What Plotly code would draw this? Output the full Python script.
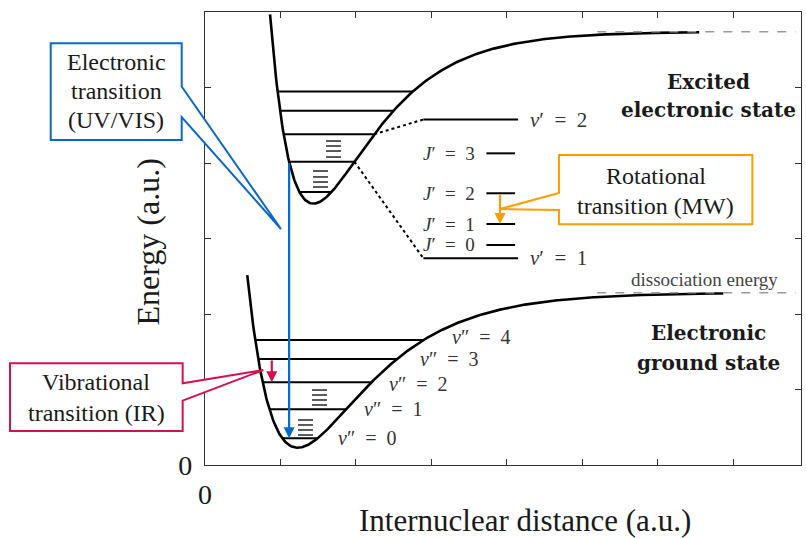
import numpy as np
import plotly.graph_objects as go

# ---- axis extents (arbitrary units) ----
x_max = 7.9
y_max = 6.0

# ---- Morse potential parameters of the two electronic states ----
ground_pot = dict(re=1.23, vmin=0.229, de=2.053, a=1.075, r0=0.56, r1=6.87)
excited_pot = dict(re=1.436, vmin=3.462, de=2.277, a=1.25, r0=0.862, r1=6.55)

# ---- vibrational levels ----
ground_levels = [0.354, 0.738, 1.095, 1.404, 1.656]
ground_labels = ["v\u2033 = 0", "v\u2033 = 1", "v\u2033 = 2", "v\u2033 = 3", "v\u2033 = 4"]
excited_levels = [3.617, 4.017, 4.381, 4.691, 4.947]

# magnified excited levels v'=1, v'=2 (energy on the zoomed scale)
zoom_levels = [2.738, 4.576]
zoom_labels = ["v\u2032 = 1", "v\u2032 = 2"]
zoom_source = [1, 2]          # which excited level each one magnifies

# ---- rotational levels of v'=1 (zoomed scale) ----
rot_levels = [2.914, 3.192, 3.599, 4.128]
rot_labels = ["J\u2032 = 0", "J\u2032 = 1", "J\u2032 = 2", "J\u2032 = 3"]

# ---- small rotational ladders drawn inside the wells ----
ladders = [
    (1.233, 1.432, [0.397, 0.464, 0.530, 0.596]),
    (1.418, 1.617, [0.795, 0.861, 0.927, 0.993]),
    (1.432, 1.630, [3.682, 3.748, 3.815, 3.894]),
    (1.604, 1.803, [4.079, 4.159, 4.225, 4.291]),
]

FONT = "Liberation Serif"
BOLD_FONT = "DejaVu Serif"
BLUE = "#0a68c8"
RED = "#d4104f"
ORANGE = "#ff9c00"
GREY = "#999999"
INK = "#1a1a1a"
EQ = "\u2002=\u2002"


def morse(p, r):
    return p["vmin"] + p["de"] * (1 - np.exp(-p["a"] * (r - p["re"]))) ** 2


def turning_points(p, e):
    s = np.sqrt((e - p["vmin"]) / p["de"])
    return p["re"] - np.log(1 + s) / p["a"], p["re"] - np.log(1 - s) / p["a"]


def px(x):
    return x / x_max


def py(y):
    return y / y_max


fig = go.Figure()

# potential energy curves
for pot in (ground_pot, excited_pot):
    r = np.linspace(pot["r0"], pot["r1"], 500)
    fig.add_trace(go.Scatter(x=r, y=morse(pot, r), mode="lines",
                             line=dict(color="black", width=2.6),
                             hoverinfo="skip"))

# dissociation limits
for pot in (ground_pot, excited_pot):
    lim = pot["vmin"] + pot["de"]
    fig.add_trace(go.Scatter(x=[5.2, 7.83], y=[lim, lim], mode="lines",
                             line=dict(color=GREY, width=1.5, dash="dash"),
                             hoverinfo="skip"))

# vibrational level lines between the classical turning points
xs, ys = [], []
for pot, levels in ((ground_pot, ground_levels), (excited_pot, excited_levels)):
    for e in levels:
        r_l, r_r = turning_points(pot, e)
        xs += [r_l, r_r, None]
        ys += [e, e, None]
fig.add_trace(go.Scatter(x=xs, y=ys, mode="lines",
                         line=dict(color="black", width=2), hoverinfo="skip"))

# ladders of rotational sub-levels
xs, ys = [], []
for x0, x1, yl in ladders:
    for y in yl:
        xs += [x0, x1, None]
        ys += [y, y, None]
fig.add_trace(go.Scatter(x=xs, y=ys, mode="lines",
                         line=dict(color="#333333", width=1.6), hoverinfo="skip"))

# magnified v' levels and dotted connectors
zoom_x0, zoom_x1 = 2.894, 4.15
xs, ys, dx, dy = [], [], [], []
for e, src in zip(zoom_levels, zoom_source):
    xs += [zoom_x0, zoom_x1, None]
    ys += [e, e, None]
    r_r = turning_points(excited_pot, excited_levels[src])[1]
    dx += [r_r, zoom_x0, None]
    dy += [excited_levels[src], e, None]
fig.add_trace(go.Scatter(x=xs, y=ys, mode="lines",
                         line=dict(color="black", width=2), hoverinfo="skip"))
fig.add_trace(go.Scatter(x=dx, y=dy, mode="lines",
                         line=dict(color="black", width=2, dash="dot"),
                         hoverinfo="skip"))

# rotational levels J'
rot_x0, rot_x1 = 3.73, 4.11
xs, ys = [], []
for e in rot_levels:
    xs += [rot_x0, rot_x1, None]
    ys += [e, e, None]
fig.add_trace(go.Scatter(x=xs, y=ys, mode="lines",
                         line=dict(color="black", width=2), hoverinfo="skip"))

annotations = []


def label(x, y, lines, size, anchor="left", color=INK, family=FONT,
          spacing=None, bold=False):
    """Place text (one annotation per line) at data position (x, y)."""
    if isinstance(lines, str):
        lines = [lines]
    spacing = spacing or 1.25 * size
    n = len(lines)
    for i, t in enumerate(lines):
        if bold:
            t = "<b>" + t + "</b>"
        annotations.append(dict(
            x=px(x), y=py(y), xref="paper", yref="paper", text=t,
            showarrow=False, xanchor=anchor, yanchor="middle",
            yshift=((n - 1) / 2 - i) * spacing,
            font=dict(family=family, size=size, color=color)))


def math_label(s):
    name, val = s.split(" = ")
    return "<i>" + name[0] + "</i>" + name[1:] + EQ + val


# level labels
ground_label_x = [1.736, 2.081, 2.413, 2.824, 3.248]
ground_label_dy = [0.0, 0.0, -0.02, 0.0, 0.04]
for x, e, dy_, t in zip(ground_label_x, ground_levels, ground_label_dy, ground_labels):
    label(x, e + dy_, math_label(t), 20, color="#333333")
for e, t in zip(zoom_levels, zoom_labels):
    label(4.28, e, math_label(t), 21, color="#333333")
for e, t in zip(rot_levels, rot_labels):
    label(3.607, e, math_label(t), 19, anchor="right", color="#333333")

# state names
label(6.68, 4.887, ["Excited", "electronic state"], 20, anchor="center",
      family=BOLD_FONT, bold=True, spacing=28)
label(6.68, 1.55, ["Electronic", "ground state"], 20, anchor="center",
      family=BOLD_FONT, bold=True, spacing=30)
label(6.615, 2.46, "dissociation energy", 19, anchor="center", color="#444444")

# transition arrows (tail at upper level, head at lower level)
arrows = [
    (turning_points(excited_pot, excited_levels[1])[0], excited_levels[1],
     ground_levels[0], BLUE),
    (0.885, ground_levels[3], ground_levels[2], RED),
    (3.91, rot_levels[2], rot_levels[1], ORANGE),
]
for x, y0, y1, col in arrows:
    annotations.append(dict(x=x, y=y1, ax=x, ay=y0, xref="x", yref="y",
                            axref="x", ayref="y", text="", showarrow=True,
                            arrowhead=2, arrowsize=1, arrowwidth=2.2,
                            arrowcolor=col, standoff=0))

# callout boxes: (left, right, bottom, top, wedge_low, wedge_high, tip_x, tip_y)
callouts = [
    ((-2.045, -0.309, 4.305, 5.585, 4.609, 5.013, 1.007, 3.126), BLUE, "right",
     ["Electronic", "transition", "(UV/VIS)"], (-1.177, 4.954), 29),
    ((-2.585, -0.296, 0.450, 1.347, 0.852, 1.082, 0.773, 1.258), RED, "right",
     ["Vibrational", "transition (IR)"], (-1.441, 0.894), 31),
    ((4.692, 7.255, 3.188, 4.106, 3.377, 3.603, 3.91, 3.39), ORANGE, "left",
     ["Rotational", "transition (MW)"], (5.973, 3.629), 30),
]
shapes = []
for (l, r, b, t, wl, wh, tx, ty), col, side, text, (cx, cy), sp in callouts:
    if side == "right":
        pts = [(l, t), (r, t), (r, wh), (tx, ty), (r, wl), (r, b), (l, b)]
    else:
        pts = [(l, t), (r, t), (r, b), (l, b), (l, wl), (tx, ty), (l, wh)]
    path = "M " + " L ".join(f"{px(x):.5f},{py(y):.5f}" for x, y in pts) + " Z"
    shapes.append(dict(type="path", path=path, xref="paper", yref="paper",
                       line=dict(color=col, width=2), fillcolor="white",
                       layer="above"))
    label(cx, cy, text, 24, anchor="center", spacing=sp)

# axis titles
annotations.append(dict(x=0.537, y=-0.122, xref="paper", yref="paper",
                        text="Internuclear distance (a.u.)", showarrow=False,
                        xanchor="center", yanchor="middle",
                        font=dict(family=FONT, size=31, color=INK)))
annotations.append(dict(x=-0.095, y=0.492, xref="paper", yref="paper",
                        text="Energy (a.u.)", showarrow=False, textangle=-90,
                        xanchor="center", yanchor="middle",
                        font=dict(family=FONT, size=32, color=INK)))

axis_style = dict(showline=True, linecolor="#333333", linewidth=1.2,
                  mirror="ticks", ticks="inside", ticklen=6,
                  tickcolor="#333333", tickwidth=1.2, showgrid=False,
                  zeroline=False,
                  tickfont=dict(family=FONT, size=28, color=INK))

fig.update_layout(
    width=806, height=538, autosize=False,
    margin=dict(l=205, r=5, t=12, b=73),
    paper_bgcolor="white", plot_bgcolor="white",
    showlegend=False,
    xaxis=dict(range=[0, x_max], tickvals=list(range(8)),
               ticktext=["0"] + [""] * 7, ticklabelstandoff=4, **axis_style),
    yaxis=dict(range=[0, y_max], tickvals=list(range(6)),
               ticktext=["0"] + [""] * 5, ticklabelstandoff=6, **axis_style),
    shapes=shapes,
    annotations=annotations,
)

fig.write_html("out.html")
